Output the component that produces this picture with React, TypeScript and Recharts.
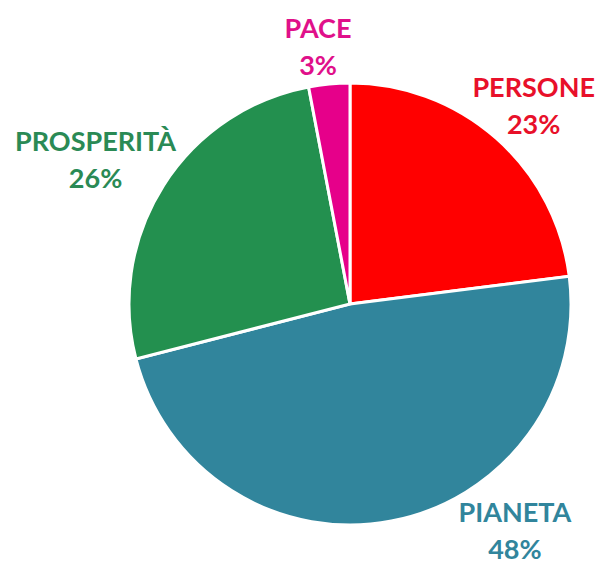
import React from 'react';
import { PieChart, Pie, Cell } from 'recharts';

const categories = ['PERSONE', 'PIANETA', 'PROSPERITÀ', 'PACE'];
const shares = [23, 48, 26, 3];
const sliceColors = ['#FF0000', '#31859C', '#23904F', '#E6008A'];
const textColors = ['#E8102A', '#31859C', '#2A8A55', '#E0108A'];

// Excel "best fit" label spots: polar angle (deg) and distance of the first line from the pie centre
const labelSpots = [
  { angle: 49.7, dist: 284 },
  { angle: -51.7, dist: 266 },
  { angle: 147.4, dist: 302 },
  { angle: 96.6, dist: 278 },
];

const data = categories.map((name, i) => ({ name, value: shares[i] }));

const RADIAN = Math.PI / 180;
const FONT = 27;

const renderLabel = (props: any) => {
  const { cx, cy, index, value } = props;
  const spot = labelSpots[index];
  const x = cx + spot.dist * Math.cos(spot.angle * RADIAN);
  const y = cy - spot.dist * Math.sin(spot.angle * RADIAN);
  return (
    <text
      x={x}
      y={y + FONT * 0.36}
      textAnchor="middle"
      fill={textColors[index]}
      fontFamily="Lato, sans-serif"
      fontWeight="bold"
      fontSize={FONT}
    >
      <tspan x={x}>{categories[index]}</tspan>
      <tspan x={x} dy={37}>{value}%</tspan>
    </text>
  );
};

export default function App() {
  return (
    <div style={{ position: 'fixed', left: 0, top: 0, width: 597, height: 561, background: '#fff' }}>
      <PieChart width={597} height={561} margin={{ top: 0, right: 0, bottom: 0, left: 0 }}>
        <Pie
          data={data}
          dataKey="value"
          nameKey="name"
          cx={350}
          cy={304}
          outerRadius={221}
          startAngle={90}
          endAngle={-270}
          stroke="#ffffff"
          strokeWidth={3}
          label={renderLabel}
          labelLine={false}
          isAnimationActive={false}
        >
          {data.map((d, i) => (
            <Cell key={d.name} fill={sliceColors[i]} />
          ))}
        </Pie>
      </PieChart>
    </div>
  );
}
